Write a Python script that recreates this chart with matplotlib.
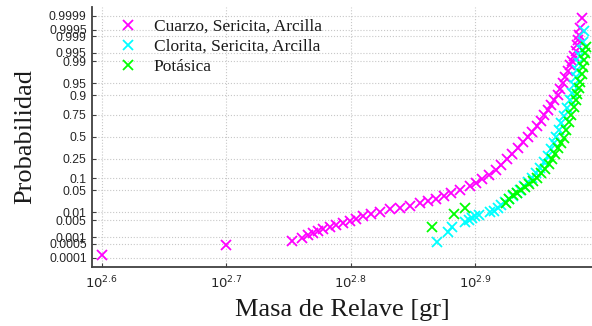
import numpy as np
import matplotlib
matplotlib.use("Agg")
import matplotlib.pyplot as plt
from matplotlib.ticker import FixedLocator, NullLocator
from statistics import NormalDist

# masa de relave [gr] y probabilidad acumulada de cada alteracion
masa_cuarzo = [398.1, 501.2, 565.6, 576.5, 582.9, 588.3, 593.7, 599.3, 607.0, 613.8,
               621.7, 629.8, 636.8, 645.1, 654.6, 665.6, 677.9, 690.6, 703.4, 716.5,
               727.1, 738.9, 748.9, 759.5, 771.3, 785.6, 795.8, 804.6, 815.1, 825.7,
               833.3, 842.6, 850.3, 859.0, 867.0, 875.8, 882.3, 889.6, 896.2, 902.0,
               907.8, 912.9, 917.9, 924.4, 929.0, 932.9, 937.6, 941.9, 946.2, 949.7,
               953.2, 956.2, 958.5, 960.3, 962.1, 963.8, 966.9]
prob_cuarzo = [0.000136, 0.000431, 0.000702, 0.000942, 0.00124, 0.0016, 0.00185, 0.00226,
               0.00273, 0.00329, 0.00397, 0.00487, 0.00592, 0.00704, 0.0087, 0.01067,
               0.01255, 0.01412, 0.01713, 0.01994, 0.02396, 0.02859, 0.034, 0.04164,
               0.0505, 0.06276, 0.07708, 0.09493, 0.1224, 0.1527, 0.1962, 0.2435, 0.3026,
               0.364, 0.4293, 0.5, 0.5636, 0.6289, 0.6908, 0.7479, 0.7944, 0.8352, 0.8706,
               0.9003, 0.9289, 0.9498, 0.9669, 0.9784, 0.9863, 0.9901, 0.9935, 0.99582,
               0.99761, 0.99854, 0.99912, 0.99957, 0.999865]

masa_clorita = [740.0, 755.1, 761.0, 779.8, 784.2, 789.2, 794.3, 799.5, 816.6, 822.6,
                828.7, 833.3, 839.5, 845.7, 851.9, 858.2, 863.0, 869.4, 875.8, 882.3,
                888.8, 895.4, 902.0, 907.8, 912.9, 917.9, 922.1, 926.4, 930.7, 935.9,
                941.0, 945.4, 948.9, 952.4, 955.9, 958.5, 961.2, 963.8, 966.5, 969.2, 970.9]
prob_clorita = [0.00058, 0.00173, 0.00281, 0.00415, 0.00519, 0.00618, 0.00704, 0.00833,
                0.00985, 0.01158, 0.01359, 0.01778, 0.02227, 0.02762, 0.034, 0.04164,
                0.05208, 0.06464, 0.08167, 0.1019, 0.132, 0.1716, 0.2182, 0.2763, 0.3527,
                0.4231, 0.5, 0.5816, 0.6634, 0.7379, 0.8114, 0.8706, 0.9107, 0.9442,
                0.9669, 0.9799, 0.9883, 0.9935, 0.99618, 0.99822, 0.99945]

masa_potasica = [732.5, 762.8, 779.8, 840.2, 845.7, 851.9, 858.2, 864.6, 871.0, 877.4,
                 883.9, 890.4, 897.0, 903.7, 909.5, 915.4, 920.4, 925.6, 930.7, 935.0,
                 939.3, 943.6, 948.0, 952.4, 955.9, 958.5, 961.2, 963.8, 966.5, 968.3,
                 970.1, 971.9, 974.0]
prob_potasica = [0.00281, 0.00854, 0.0138, 0.02023, 0.02859, 0.03523, 0.043, 0.0505,
                 0.0608, 0.0749, 0.0888, 0.1047, 0.1288, 0.1601, 0.2005, 0.2463, 0.3026,
                 0.364, 0.4231, 0.49, 0.5816, 0.6744, 0.7479, 0.8196, 0.8706, 0.9056,
                 0.933, 0.9538, 0.9731, 0.984, 0.9909, 0.995, 0.99719]

etiquetas = ['Cuarzo, Sericita, Arcilla', 'Clorita, Sericita, Arcilla', 'Potásica']
prob_ticks = [0.0001, 0.0005, 0.001, 0.005, 0.01, 0.05, 0.1, 0.25, 0.5,
              0.75, 0.9, 0.95, 0.99, 0.995, 0.999, 0.9995, 0.9999]
exp_ticks = [2.6, 2.7, 2.8, 2.9]

plt.rcParams['mathtext.fontset'] = 'custom'
plt.rcParams['mathtext.rm'] = 'Liberation Sans'

nd = NormalDist()


def a_normal(p):
    p = np.clip(np.asarray(p, dtype=float), 1e-12, 1 - 1e-12)
    return np.array([nd.inv_cdf(v) for v in p.ravel()]).reshape(p.shape)


def de_normal(z):
    z = np.asarray(z, dtype=float)
    return np.array([nd.cdf(v) for v in z.ravel()]).reshape(z.shape)


fig = plt.figure(figsize=(5.92, 3.26), dpi=100)
ax = fig.add_axes([0.1559, 0.1819, 0.8441, 0.7975])

estilo = dict(linestyle='none', marker='x', ms=7, mew=1.3)
ax.plot(masa_cuarzo, prob_cuarzo, color='#ff00ff', label=etiquetas[0], **estilo)
ax.plot(masa_clorita, prob_clorita, color='#00ffff', label=etiquetas[1], **estilo)
ax.plot(masa_potasica, prob_potasica, color='#00ff00', label=etiquetas[2], **estilo)

ax.set_xscale('log')
ax.set_yscale('function', functions=(a_normal, de_normal))
ax.set_xlim(10 ** 2.5925, 10 ** 2.9935)
ax.set_ylim(nd.cdf(-4), nd.cdf(4))

ax.xaxis.set_major_locator(FixedLocator([10 ** e for e in exp_ticks]))
ax.xaxis.set_minor_locator(NullLocator())
ax.set_xticklabels([r'$\mathregular{10^{%s}}$' % e for e in exp_ticks])
ax.yaxis.set_major_locator(FixedLocator(prob_ticks))
ax.yaxis.set_minor_locator(NullLocator())
ax.set_yticklabels([str(p) for p in prob_ticks])

for lab in ax.get_yticklabels():
    lab.set_family('Liberation Sans')
    lab.set_fontsize(8.8)
    lab.set_color('#262626')
for lab in ax.get_xticklabels():
    lab.set_fontsize(9.5)
    lab.set_color('#262626')

ax.tick_params(direction='in', length=3, width=0.8, color='#404040')
ax.tick_params(axis='y', pad=4)
ax.tick_params(axis='x', pad=6)

ax.grid(True, color='#c8c8c8', linestyle=':', linewidth=0.8)
ax.set_axisbelow(True)
for s in ['top', 'right']:
    ax.spines[s].set_visible(False)
for s in ['left', 'bottom']:
    ax.spines[s].set_color('#404040')
    ax.spines[s].set_linewidth(1.3)

ax.set_xlabel('Masa de Relave [gr]', family='Liberation Serif', fontsize=19, color='#1a1a1a')
ax.set_ylabel('Probabilidad', family='Liberation Serif', fontsize=19, color='#1a1a1a')
ax.xaxis.set_label_coords(0.5, -0.125)
ax.yaxis.set_label_coords(-0.113, 0.5)

ax.legend(loc='upper left', bbox_to_anchor=(0.044, 0.954), frameon=False,
          prop={'family': 'Liberation Serif', 'size': 12.5}, handlelength=1.6,
          handletextpad=0.68, labelspacing=0.22, borderpad=0, borderaxespad=0,
          labelcolor='#1a1a1a')

fig.savefig('out.png', dpi=100)
